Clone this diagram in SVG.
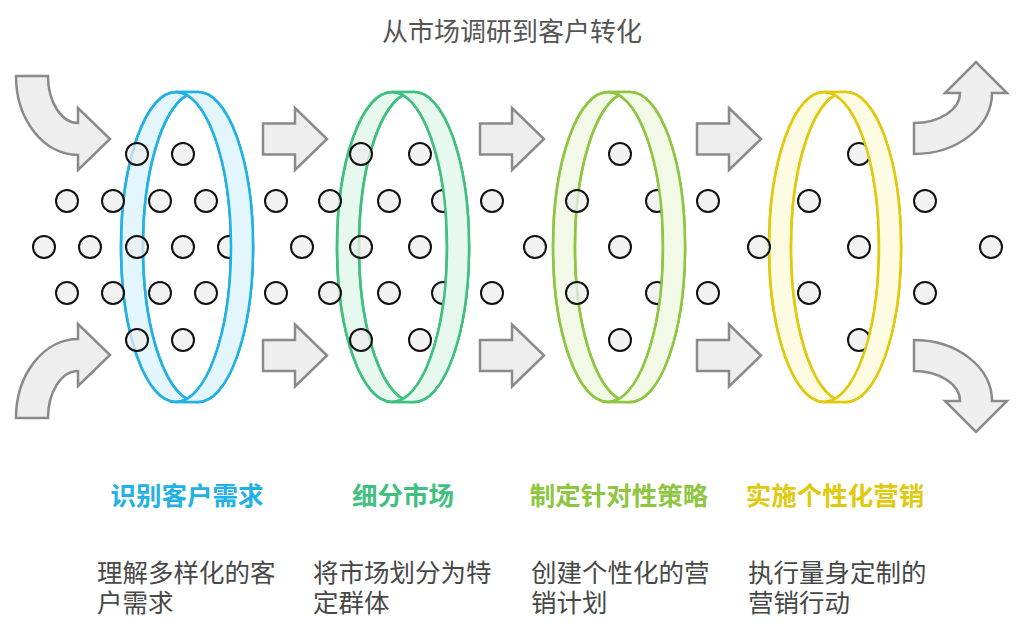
<svg xmlns="http://www.w3.org/2000/svg" width="1024" height="634" viewBox="0 0 1024 634">
<style>
.arrow{fill:#eeeeee;stroke:#8a8a8a;stroke-width:2.5;stroke-linejoin:miter}
.dot{fill:#eeeeee;fill-opacity:0.75;stroke:#111;stroke-width:2}
.title{font-family:"Noto Sans CJK SC","Noto Sans",sans-serif;font-size:26px;fill:#555;text-anchor:middle}
.head{font-family:"Noto Sans CJK SC","Noto Sans",sans-serif;font-size:25.5px;font-weight:bold;text-anchor:middle}
.desc{font-family:"Noto Sans CJK SC","Noto Sans",sans-serif;font-size:25.5px;fill:#484848}
.r1{stroke:#22b1e4;fill:#e4f6fd}
.r2{stroke:#3fc07e;fill:#e7f8ee}
.r3{stroke:#8ec642;fill:#f2f9e6}
.r4{stroke:#e0c90e;fill:#fdfbe2}
.ring path,.ring ellipse{stroke-width:2.5}
</style>
<rect width="1024" height="634" fill="#ffffff"/>
<text class="title" x="512" y="41">从市场调研到客户转化</text>

<g id="connectors">
<path class="arrow" d="M16 76 H48 A30 47 0 0 0 78 123 V108 L110 139 L78 170 V155 A62 79 0 0 1 16 76 Z"/>
<path class="arrow" d="M16 418 H48 A30 47 0 0 1 78 371 V386 L110 355 L78 324 V339 A62 79 0 0 0 16 418 Z"/>
<path class="arrow" d="M263 123.5 H295 V108 L327 139 L295 170 V154.5 H263 Z"/>
<path class="arrow" d="M263 340 H295 V324.5 L327 355.5 L295 386.5 V371 H263 Z"/>
<path class="arrow" d="M480 123.5 H512 V108 L544 139 L512 170 V154.5 H480 Z"/>
<path class="arrow" d="M480 340 H512 V324.5 L544 355.5 L512 386.5 V371 H480 Z"/>
<path class="arrow" d="M697 123.5 H729 V108 L761 139 L729 170 V154.5 H697 Z"/>
<path class="arrow" d="M697 340 H729 V324.5 L761 355.5 L729 386.5 V371 H697 Z"/>
<path class="arrow" d="M914 123 A46 30 0 0 0 960 93 H945 L976 62 L1007 93 H992 A78 61 0 0 1 914 154 Z"/>
<path class="arrow" d="M914 371 A46 30 0 0 1 960 401 H945 L976 432 L1007 401 H992 A78 61 0 0 0 914 340 Z"/>
</g>

<g id="ring1" class="ring r1">
<path d="M176 92 H198 A55 155 0 0 1 198 402 H176 A55 155 0 0 1 176 92 Z"/>
<path d="M187 95.1 A55 155 0 0 1 187 398.9 A55 155 0 0 1 187 95.1 Z" fill="#ffffff"/>
<ellipse cx="176" cy="247" rx="55" ry="155" fill="none"/>
<ellipse cx="198" cy="247" rx="55" ry="155" fill="none"/>
</g>
<g id="ring2" class="ring r2">
<path d="M392 92 H414 A55 155 0 0 1 414 402 H392 A55 155 0 0 1 392 92 Z"/>
<path d="M403 95.1 A55 155 0 0 1 403 398.9 A55 155 0 0 1 403 95.1 Z" fill="#ffffff"/>
<ellipse cx="392" cy="247" rx="55" ry="155" fill="none"/>
<ellipse cx="414" cy="247" rx="55" ry="155" fill="none"/>
</g>
<g id="ring3" class="ring r3">
<path d="M608 92 H630 A55 155 0 0 1 630 402 H608 A55 155 0 0 1 608 92 Z"/>
<path d="M619 95.1 A55 155 0 0 1 619 398.9 A55 155 0 0 1 619 95.1 Z" fill="#ffffff"/>
<ellipse cx="608" cy="247" rx="55" ry="155" fill="none"/>
<ellipse cx="630" cy="247" rx="55" ry="155" fill="none"/>
</g>
<g id="ring4" class="ring r4">
<path d="M824 92 H846 A55 155 0 0 1 846 402 H824 A55 155 0 0 1 824 92 Z"/>
<path d="M835 95.1 A55 155 0 0 1 835 398.9 A55 155 0 0 1 835 95.1 Z" fill="#ffffff"/>
<ellipse cx="824" cy="247" rx="55" ry="155" fill="none"/>
<ellipse cx="846" cy="247" rx="55" ry="155" fill="none"/>
</g>

<g id="dots">
<circle class="dot" cx="137" cy="154" r="11"/><circle class="dot" cx="183" cy="154" r="11"/>
<circle class="dot" cx="67" cy="201" r="11"/><circle class="dot" cx="113" cy="201" r="11"/><circle class="dot" cx="160" cy="201" r="11"/><circle class="dot" cx="206" cy="201" r="11"/>
<circle class="dot" cx="44" cy="247" r="11"/><circle class="dot" cx="90" cy="247" r="11"/><circle class="dot" cx="137" cy="247" r="11"/><circle class="dot" cx="183" cy="247" r="11"/><circle class="dot" cx="229" cy="247" r="11"/>
<circle class="dot" cx="67" cy="293" r="11"/><circle class="dot" cx="113" cy="293" r="11"/><circle class="dot" cx="160" cy="293" r="11"/><circle class="dot" cx="206" cy="293" r="11"/>
<circle class="dot" cx="137" cy="340" r="11"/><circle class="dot" cx="183" cy="340" r="11"/>

<circle class="dot" cx="361" cy="154" r="11"/><circle class="dot" cx="420" cy="154" r="11"/>
<circle class="dot" cx="276" cy="201" r="11"/><circle class="dot" cx="330" cy="201" r="11"/><circle class="dot" cx="389" cy="201" r="11"/><circle class="dot" cx="443" cy="201" r="11"/>
<circle class="dot" cx="302" cy="247" r="11"/><circle class="dot" cx="361" cy="247" r="11"/><circle class="dot" cx="420" cy="247" r="11"/>
<circle class="dot" cx="276" cy="293" r="11"/><circle class="dot" cx="330" cy="293" r="11"/><circle class="dot" cx="389" cy="293" r="11"/><circle class="dot" cx="443" cy="293" r="11"/>
<circle class="dot" cx="361" cy="340" r="11"/><circle class="dot" cx="420" cy="340" r="11"/>

<circle class="dot" cx="620" cy="154" r="11"/>
<circle class="dot" cx="492" cy="201" r="11"/><circle class="dot" cx="577" cy="201" r="11"/><circle class="dot" cx="657" cy="201" r="11"/><circle class="dot" cx="708" cy="201" r="11"/>
<circle class="dot" cx="535" cy="247" r="11"/><circle class="dot" cx="620" cy="247" r="11"/>
<circle class="dot" cx="492" cy="293" r="11"/><circle class="dot" cx="577" cy="293" r="11"/><circle class="dot" cx="657" cy="293" r="11"/><circle class="dot" cx="708" cy="293" r="11"/>
<circle class="dot" cx="620" cy="340" r="11"/>

<circle class="dot" cx="859" cy="154" r="11"/>
<circle class="dot" cx="809" cy="201" r="11"/><circle class="dot" cx="925" cy="201" r="11"/>
<circle class="dot" cx="759" cy="247" r="11"/><circle class="dot" cx="859" cy="247" r="11"/><circle class="dot" cx="991" cy="247" r="11"/>
<circle class="dot" cx="809" cy="293" r="11"/><circle class="dot" cx="925" cy="293" r="11"/>
<circle class="dot" cx="859" cy="340" r="11"/>
</g>

<g id="ring-fronts" class="ring">
<path class="r1" d="M198 92 A55 155 0 0 1 198 402 H176 A55 155 0 0 0 176 92 Z"/>
<path class="r2" d="M414 92 A55 155 0 0 1 414 402 H392 A55 155 0 0 0 392 92 Z"/>
<path class="r3" d="M630 92 A55 155 0 0 1 630 402 H608 A55 155 0 0 0 608 92 Z"/>
<path class="r4" d="M846 92 A55 155 0 0 1 846 402 H824 A55 155 0 0 0 824 92 Z"/>
</g>

<g id="step1">
<text class="head" x="187" y="505" fill="#22b1e4">识别客户需求</text>
<text class="desc" x="97" y="582"><tspan x="97" y="582">理解多样化的客</tspan><tspan x="97" y="612">户需求</tspan></text>
</g>
<g id="step2">
<text class="head" x="403" y="505" fill="#3fc07e">细分市场</text>
<text class="desc" x="313" y="582"><tspan x="313" y="582">将市场划分为特</tspan><tspan x="313" y="612">定群体</tspan></text>
</g>
<g id="step3">
<text class="head" x="619" y="505" fill="#8ec642">制定针对性策略</text>
<text class="desc" x="531" y="582"><tspan x="531" y="582">创建个性化的营</tspan><tspan x="531" y="612">销计划</tspan></text>
</g>
<g id="step4">
<text class="head" x="835" y="505" fill="#e0c90e">实施个性化营销</text>
<text class="desc" x="748" y="582"><tspan x="748" y="582">执行量身定制的</tspan><tspan x="748" y="612">营销行动</tspan></text>
</g>
</svg>
